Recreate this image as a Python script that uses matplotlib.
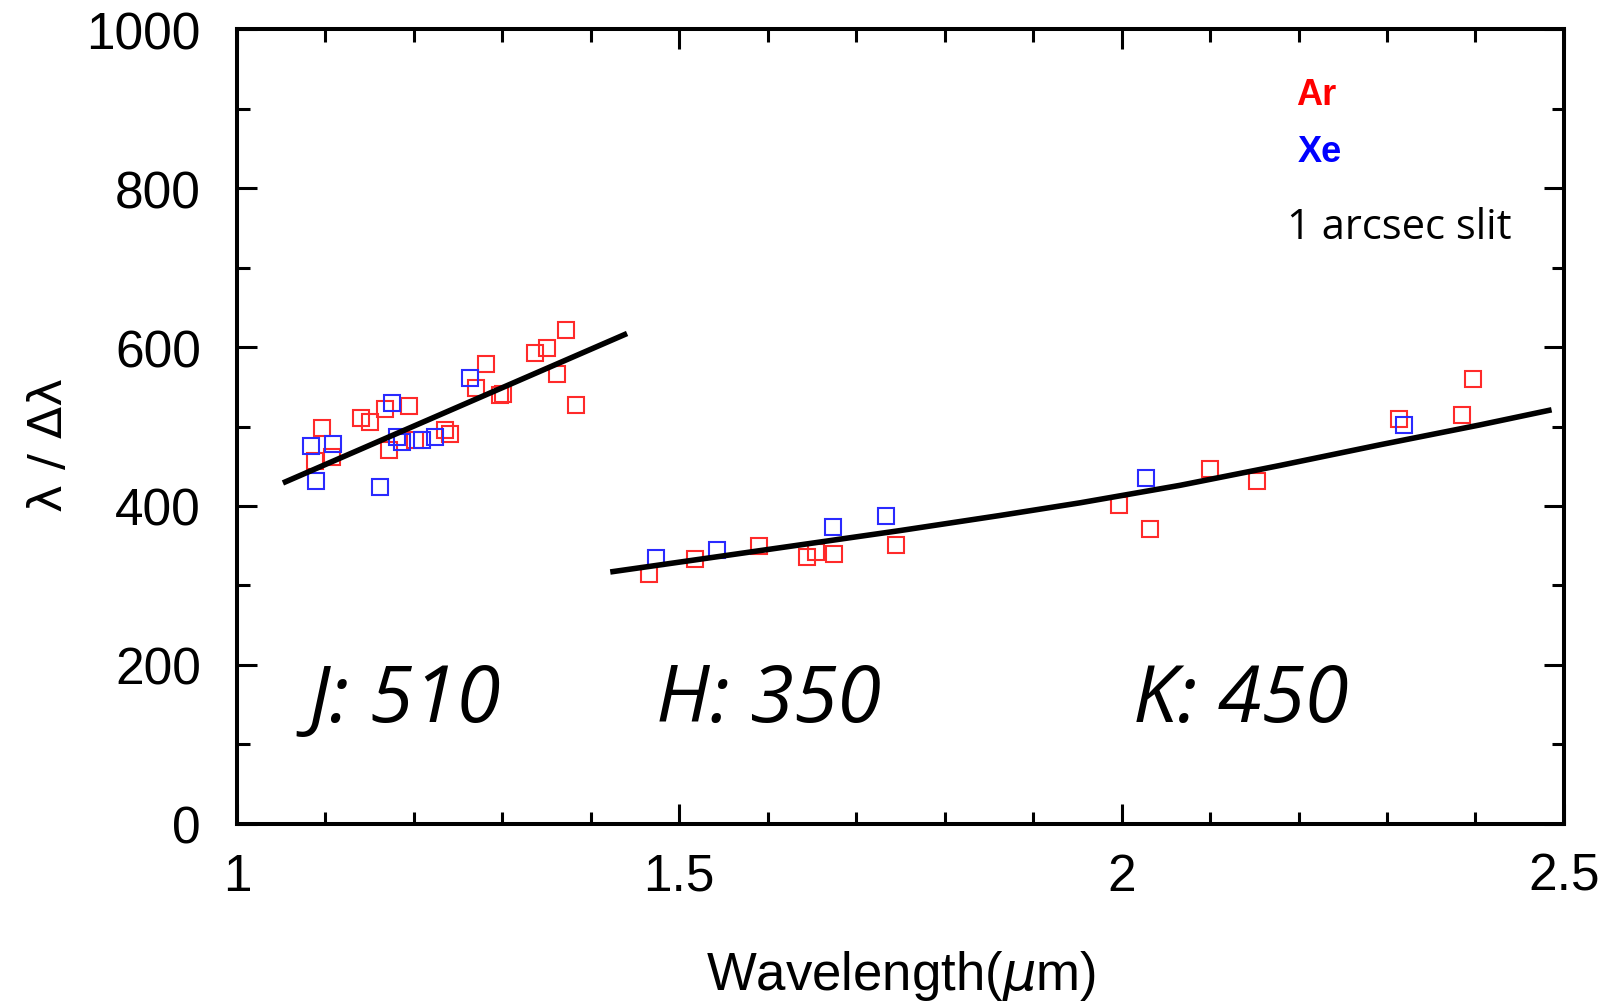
import matplotlib
matplotlib.use("Agg")
import matplotlib.pyplot as plt
from matplotlib.ticker import MultipleLocator, FixedLocator

# Ar calibration lines (red)
ar_wave = [1.096, 1.088, 1.108, 1.140, 1.150, 1.167, 1.195, 1.172, 1.201, 1.235, 1.241,
           1.281, 1.270, 1.297, 1.301, 1.337, 1.351, 1.372, 1.362, 1.383,
           1.466, 1.518, 1.590, 1.644, 1.655, 1.675, 1.745,
           1.997, 2.032, 2.100, 2.153, 2.314, 2.385, 2.397]
ar_res = [498, 456, 462, 511, 506, 522, 526, 470, 483, 496, 491,
          578, 549, 539, 541, 593, 599, 622, 566, 527,
          315, 333, 350, 336, 342, 339, 351,
          401, 371, 446, 432, 510, 515, 560]

# Xe calibration lines (blue)
xe_wave = [1.084, 1.109, 1.089, 1.162, 1.175, 1.181, 1.187, 1.209, 1.224, 1.263,
           1.474, 1.543, 1.674, 1.734,
           2.027, 2.319]
xe_res = [475, 478, 431, 424, 529, 487, 480, 483, 487, 561,
          334, 345, 373, 388,
          435, 502]

# fitted trends
j_fit_wave = [1.052, 1.441]
j_fit_res = [429, 617]
hk_fit_wave = [1.422, 1.523, 1.636, 1.749, 1.862, 1.953, 2.066, 2.179, 2.292, 2.405, 2.486]
hk_fit_res = [317, 333, 351, 369, 388, 404, 426, 451, 477, 502, 521]

# band labels
band_labels = ["J: 510", "H: 350", "K: 450"]
band_x = [1.081, 1.474, 2.013]

fig = plt.figure(figsize=(16.15, 10.04), dpi=100)
ax = fig.add_axes([0.1467, 0.1783, 0.9684 - 0.1467, 0.9701 - 0.1783])

red = "#ff2a2a"
blue = "#2a2aff"
ax.plot(ar_wave, ar_res, linestyle="none", marker="s", markersize=11.5,
        markerfacecolor="none", markeredgecolor=red, markeredgewidth=1.5, zorder=2)
ax.plot(xe_wave, xe_res, linestyle="none", marker="s", markersize=11.5,
        markerfacecolor="none", markeredgecolor=blue, markeredgewidth=1.5, zorder=2)
ax.plot(j_fit_wave, j_fit_res, color="black", linewidth=4, solid_capstyle="butt", zorder=3)
ax.plot(hk_fit_wave, hk_fit_res, color="black", linewidth=4, solid_capstyle="butt",
        solid_joinstyle="round", zorder=3)

ax.set_xlim(1, 2.5)
ax.set_ylim(0, 1000)
ax.xaxis.set_major_locator(FixedLocator([1, 1.5, 2, 2.5]))
ax.set_xticklabels(["1", "1.5", "2", "2.5"])
ax.xaxis.set_minor_locator(MultipleLocator(0.1))
ax.yaxis.set_major_locator(MultipleLocator(200))
ax.yaxis.set_minor_locator(MultipleLocator(100))

for s in ax.spines.values():
    s.set_linewidth(2.9)
ax.tick_params(which="both", direction="in", top=True, right=True, width=2.2)
ax.tick_params(which="major", length=14.5)
ax.tick_params(which="minor", length=9)
ax.tick_params(axis="y", which="major", labelsize=37, pad=26)
ax.tick_params(axis="x", which="major", labelsize=37, pad=20)
for lab in ax.get_xticklabels() + ax.get_yticklabels():
    lab.set_family("Liberation Sans")

ax.set_xlabel(r"Wavelength($\mu$m)", fontsize=38, family="Liberation Sans")
ax.xaxis.set_label_coords(0.5, -0.156)
ax.set_ylabel("λ / Δλ", fontsize=34, family="DejaVu Sans")
ax.yaxis.set_label_coords(-0.124, 0.478)

for lab, x in zip(band_labels, band_x):
    ax.text(x, 130, lab, fontsize=57, style="italic", family="Open Sans",
            ha="left", va="baseline")

ax.text(2.197, 906, "Ar", color="#ff0000", fontsize=26, fontweight="bold",
        family="Liberation Sans", ha="left", va="baseline")
ax.text(2.199, 834, "Xe", color="#0000ff", fontsize=26, fontweight="bold",
        family="Liberation Sans", ha="left", va="baseline")
ax.text(2.187, 737, "1 arcsec slit", color="black", fontsize=30,
        family="Open Sans", ha="left", va="baseline")

fig.savefig("out.png", dpi=100)
